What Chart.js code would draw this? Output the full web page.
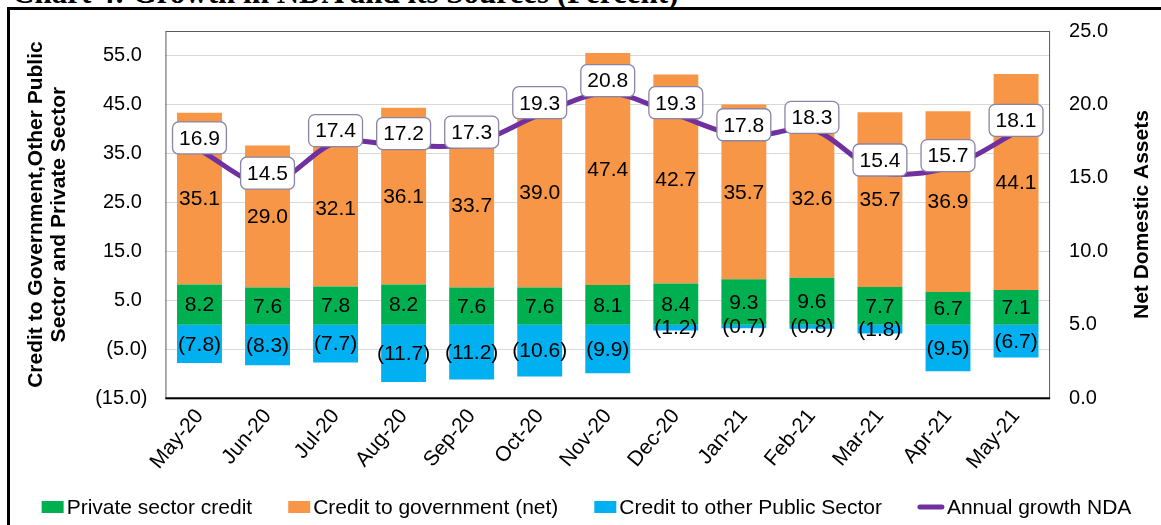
<!DOCTYPE html>
<html><head><meta charset="utf-8">
<script src="https://cdn.jsdelivr.net/npm/chart.js@4.4.1/dist/chart.umd.min.js"></script>
<style>
html,body{margin:0;padding:0;background:#fff;}
#wrap{position:relative;width:1161px;height:525px;overflow:hidden;background:#fff;}
#title{position:absolute;left:12px;top:-23px;font:bold 31px "Liberation Serif","Times New Roman",serif;white-space:nowrap;line-height:31px;color:#000;}
#frame{position:absolute;left:7px;top:7px;width:1200px;height:600px;border-top:3px solid #000;border-left:3px solid #000;}
canvas{position:absolute;left:0;top:0;}
</style></head>
<body><div id="wrap"><div id="title">Chart 4: Growth in NDA and its Sources (Percent)</div><div id="frame"></div><canvas id="c" width="1161" height="525"></canvas></div>
<script>
const categories = ['May-20','Jun-20','Jul-20','Aug-20','Sep-20','Oct-20','Nov-20','Dec-20','Jan-21','Feb-21','Mar-21','Apr-21','May-21'];
const privateSectorCredit = [8.2,7.6,7.8,8.2,7.6,7.6,8.1,8.4,9.3,9.6,7.7,6.7,7.1];
const creditToGovernment = [35.1,29.0,32.1,36.1,33.7,39.0,47.4,42.7,35.7,32.6,35.7,36.9,44.1];
const creditToOtherPublic = [-7.8,-8.3,-7.7,-11.7,-11.2,-10.6,-9.9,-1.2,-0.7,-0.8,-1.8,-9.5,-6.7];
const ndaGrowth = [16.9,14.5,17.4,17.2,17.3,19.3,20.8,19.3,17.8,18.3,15.4,15.7,18.1];
const leftTicks = [-15,-5,5,15,25,35,45,55];
const rightTicks = [0,5,10,15,20,25];
const leftRange = [-15,60];
const rightRange = [0,25];

const FAM = '"Liberation Sans", Arial, sans-serif';
const fmt = v => v < 0 ? '(' + Math.abs(v).toFixed(1) + ')' : v.toFixed(1);

const overlay = {
  id: 'overlay',
  afterDatasetsDraw(chart) {
    const ctx = chart.ctx, a = chart.chartArea;
    ctx.save();
    ctx.strokeStyle = '#595959'; ctx.lineWidth = 1;
    ctx.strokeRect(a.left + 0.5, a.top + 0.5, a.right - a.left - 1, a.bottom - a.top);
    ctx.beginPath(); ctx.strokeStyle = '#000'; ctx.lineWidth = 2;
    ctx.moveTo(a.left, a.bottom); ctx.lineTo(a.right, a.bottom); ctx.stroke();
    ctx.font = '21px ' + FAM; ctx.fillStyle = '#000';
    ctx.textAlign = 'center'; ctx.textBaseline = 'middle';
    chart.data.datasets.forEach((ds, i) => {
      if (ds.type === 'line') return;
      chart.getDatasetMeta(i).data.forEach((el, j) => {
        ctx.fillText(fmt(ds.data[j]), el.x, (el.y + el.base) / 2 + 1);
      });
    });
    chart.data.datasets.forEach((ds, i) => {
      if (ds.type !== 'line') return;
      chart.getDatasetMeta(i).data.forEach((el, j) => {
        const t = fmt(ds.data[j]);
        const w = ctx.measureText(t).width + 13, h = 32;
        const cx = el.x, cy = el.y - 12;
        ctx.beginPath();
        ctx.roundRect(cx - w / 2, cy - h / 2, w, h, 6);
        ctx.fillStyle = '#fff'; ctx.fill();
        ctx.strokeStyle = '#8a85a6'; ctx.lineWidth = 1.3; ctx.stroke();
        ctx.fillStyle = '#000';
        ctx.fillText(t, cx, cy + 1);
      });
    });
    ctx.restore();
  },
  afterDraw(chart) {
    const ctx = chart.ctx, a = chart.chartArea;
    ctx.save();
    const y1 = chart.scales.y1;
    ctx.font = 'bold 21px ' + FAM; ctx.fillStyle = '#000';
    ctx.textAlign = 'center'; ctx.textBaseline = 'middle';
    ctx.translate(y1.right + 15, (a.top + a.bottom) / 2);
    ctx.rotate(-Math.PI / 2);
    ctx.fillText('Net Domestic Assets', 0, 0);
    ctx.restore();
    ctx.save();
    ctx.font = '21px ' + FAM; ctx.textBaseline = 'middle'; ctx.textAlign = 'left';
    const items = chart.data.datasets.map(ds => ({
      label: ds.label, color: ds.type === 'line' ? ds.borderColor : ds.backgroundColor, line: ds.type === 'line'
    }));
    const box = 22, lineW = 26, gap = 3, itemGap = 36;
    const widths = items.map(it => (it.line ? lineW : box) + gap + ctx.measureText(it.label).width);
    const total = widths.reduce((s, w) => s + w, 0) + itemGap * (items.length - 1);
    let x = (chart.width - total) / 2 + 6;
    const y = chart.height - 18;
    items.forEach((it) => {
      if (it.line) {
        ctx.beginPath(); ctx.strokeStyle = it.color; ctx.lineWidth = 5; ctx.lineCap = 'round';
        ctx.moveTo(x + 2, y); ctx.lineTo(x + lineW - 2, y); ctx.stroke();
        x += lineW + gap;
      } else {
        ctx.fillStyle = it.color; ctx.fillRect(x, y - 6, box, 12);
        x += box + gap;
      }
      ctx.fillStyle = '#000';
      ctx.fillText(it.label, x, y + 1);
      x += ctx.measureText(it.label).width + itemGap;
    });
    ctx.restore();
  }
};

new Chart(document.getElementById('c'), {
  data: {
    labels: categories,
    datasets: [
      { type: 'bar', label: 'Private sector credit', data: privateSectorCredit, backgroundColor: '#00B050', yAxisID: 'y', order: 1, barPercentage: 0.66, categoryPercentage: 1 },
      { type: 'bar', label: 'Credit to government (net)', data: creditToGovernment, backgroundColor: '#F79646', yAxisID: 'y', order: 1, barPercentage: 0.66, categoryPercentage: 1 },
      { type: 'bar', label: 'Credit to other Public Sector', data: creditToOtherPublic, backgroundColor: '#00B0F0', yAxisID: 'y', order: 1, barPercentage: 0.66, categoryPercentage: 1 },
      { type: 'line', label: 'Annual growth NDA', data: ndaGrowth, borderColor: '#7030A0', backgroundColor: '#7030A0', borderWidth: 5, tension: 0.3, pointRadius: 0, yAxisID: 'y1', order: 0 }
    ]
  },
  options: {
    responsive: false, animation: false, devicePixelRatio: 1,
    layout: { padding: { left: 25, right: 34, top: 23, bottom: 45 } },
    plugins: { legend: { display: false }, tooltip: { enabled: false } },
    scales: {
      x: {
        stacked: true,
        grid: { display: false, drawTicks: false }, border: { display: false },
        ticks: { font: { size: 21, family: FAM }, color: '#000', minRotation: 50, maxRotation: 50, padding: 6, autoSkip: false }
      },
      y: {
        stacked: true, position: 'left', min: leftRange[0], max: leftRange[1],
        afterBuildTicks: s => { s.ticks = leftTicks.map(v => ({ value: v })); },
        ticks: { callback: v => v < 0 ? fmt(v) : fmt(v) + ' ', font: { size: 20, family: FAM }, color: '#000', padding: 18 },
        grid: { color: '#d9d9d9', drawTicks: false, lineWidth: 1 }, border: { display: false },
        title: { display: true, text: ['Credit to Government,Other Public', 'Sector and Private Sector'], font: { size: 21, weight: 'bold', family: FAM, lineHeight: 1.1 }, color: '#000', padding: { top: 0, bottom: 6 } }
      },
      y1: {
        position: 'right', min: rightRange[0], max: rightRange[1],
        afterBuildTicks: s => { s.ticks = rightTicks.map(v => ({ value: v })); },
        ticks: { callback: v => v.toFixed(1), font: { size: 20, family: FAM }, color: '#000', padding: 19 },
        grid: { display: false, drawTicks: false }, border: { display: false }
      }
    }
  },
  plugins: [overlay]
});
</script>
</body></html>
